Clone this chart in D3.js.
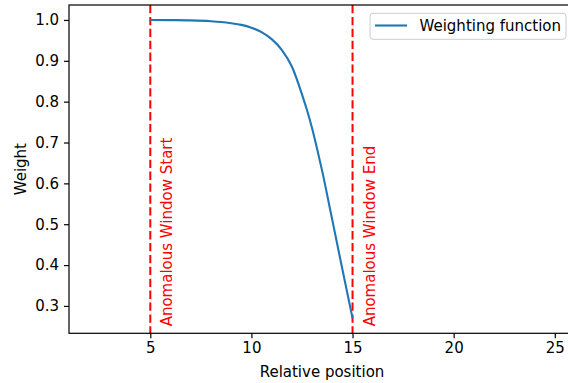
<!DOCTYPE html>
<html>
<head>
<meta charset="utf-8">
<script src="https://cdn.jsdelivr.net/npm/d3@7"></script>
<style>
  html, body { margin: 0; padding: 0; background: #fff; }
  svg { display: block; font-family: "DejaVu Sans", sans-serif; }
</style>
</head>
<body>
<div id="chart"></div>
<script>
// Weighting curve
var positions = [5, 6, 7, 8, 8.5, 9, 9.5, 10, 10.5, 11, 11.5, 12, 12.5, 12.75, 13, 13.25, 13.5, 14, 14.5, 15];
var weights   = [1.0, 0.9996, 0.999, 0.997, 0.995, 0.992, 0.988, 0.981, 0.970, 0.953, 0.927, 0.886, 0.818, 0.779, 0.735, 0.684, 0.630, 0.510, 0.389, 0.27];

var windowBounds = [5, 15];
var windowLabels = ["Anomalous Window Start", "Anomalous Window End"];
var xTicks = [5, 10, 15, 20, 25];
var yTicks = [0.3, 0.4, 0.5, 0.6, 0.7, 0.8, 0.9, 1.0];

var width = 568,
    height = 383,
    fontSize = 15;

var x = d3.scaleLinear().domain([0.98, 26.0]).range([69, 575]);
var y = d3.scaleLinear().domain([0.233, 1.0366]).range([333.3, 5]);

var svg = d3.select("#chart").append("svg")
    .attr("width", width)
    .attr("height", height);

// window markers
svg.selectAll(".vline")
    .data(windowBounds)
    .enter().append("line")
    .attr("class", "vline")
    .attr("x1", function(d) { return x(d); })
    .attr("x2", function(d) { return x(d); })
    .attr("y1", y.range()[1])
    .attr("y2", y.range()[0])
    .attr("stroke", "red")
    .attr("stroke-width", 2)
    .attr("stroke-dasharray", "8.3,3.6");

svg.selectAll(".vlabel")
    .data(windowBounds)
    .enter().append("text")
    .attr("class", "vlabel")
    .attr("transform", function(d) { return "translate(" + (x(d + 0.5) + 12) + "," + y(0.25) + ") rotate(-90)"; })
    .attr("fill", "red")
    .style("font-size", fontSize + "px")
    .text(function(d, i) { return windowLabels[i]; });

// the curve
var line = d3.line()
    .x(function(d) { return x(d); })
    .y(function(d, i) { return y(weights[i]); })
    .curve(d3.curveMonotoneX);

svg.append("path")
    .datum(positions)
    .attr("d", line)
    .attr("fill", "none")
    .attr("stroke", "#1f77b4")
    .attr("stroke-width", 2.1);

// axes
var xAxis = svg.append("g")
    .attr("transform", "translate(0," + y.range()[0] + ")")
    .call(d3.axisBottom(x).tickValues(xTicks).tickSize(5).tickPadding(4).tickFormat(d3.format("d")));

var yAxis = svg.append("g")
    .attr("transform", "translate(" + x.range()[0] + ",0)")
    .call(d3.axisLeft(y).tickValues(yTicks).tickSize(5).tickPadding(5).tickFormat(d3.format(".1f")));

[xAxis, yAxis].forEach(function(g) {
    g.select(".domain").remove();
    g.selectAll(".tick line").attr("stroke", "#000").attr("stroke-width", 1.2);
    g.selectAll(".tick text")
        .attr("fill", "#000")
        .style("font-size", fontSize + "px")
        .style("font-family", "DejaVu Sans");
});

// frame
svg.append("rect")
    .attr("x", x.range()[0])
    .attr("y", y.range()[1])
    .attr("width", x.range()[1] - x.range()[0])
    .attr("height", y.range()[0] - y.range()[1])
    .attr("fill", "none")
    .attr("stroke", "#000")
    .attr("stroke-width", 1.2);

// axis labels
svg.append("text")
    .attr("x", (x.range()[0] + x.range()[1]) / 2)
    .attr("y", 376.5)
    .attr("text-anchor", "middle")
    .style("font-size", fontSize + "px")
    .text("Relative position");

svg.append("text")
    .attr("transform", "translate(26," + (y.range()[0] + y.range()[1]) / 2 + ") rotate(-90)")
    .attr("text-anchor", "middle")
    .style("font-size", fontSize + "px")
    .text("Weight");

// legend
var legend = svg.append("g").attr("class", "legend");
legend.append("rect")
    .attr("x", 370)
    .attr("y", 13.3)
    .attr("width", 196)
    .attr("height", 26)
    .attr("rx", 3)
    .attr("fill", "#fff")
    .attr("fill-opacity", 0.8)
    .attr("stroke", "#cccccc")
    .attr("stroke-width", 1);
legend.append("line")
    .attr("x1", 375).attr("x2", 407)
    .attr("y1", 25.5).attr("y2", 25.5)
    .attr("stroke", "#1f77b4")
    .attr("stroke-width", 2.1);
legend.append("text")
    .attr("x", 419.5)
    .attr("y", 30.7)
    .style("font-size", fontSize + "px")
    .text("Weighting function");
</script>
</body>
</html>
